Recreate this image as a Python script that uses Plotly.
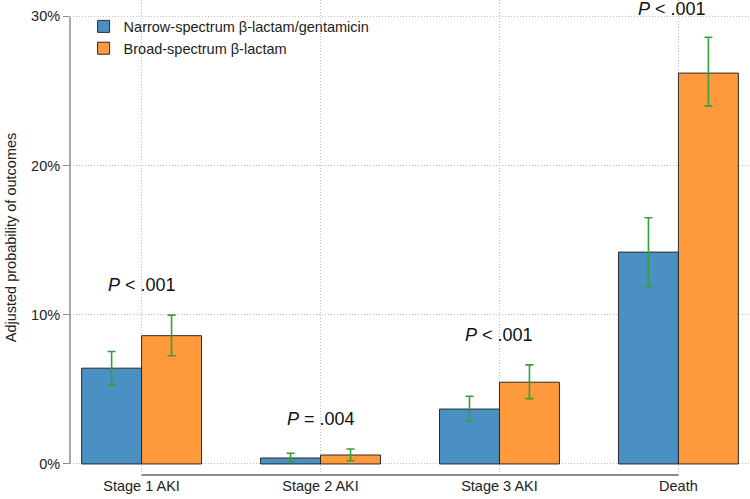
import plotly.graph_objects as go

categories = ["Stage 1 AKI", "Stage 2 AKI", "Stage 3 AKI", "Death"]
series_names = ["Narrow-spectrum β-lactam/gentamicin", "Broad-spectrum β-lactam"]
narrow = [6.42, 0.40, 3.68, 14.2]
narrow_lo = [5.3, 0.15, 2.86, 11.9]
narrow_hi = [7.54, 0.72, 4.54, 16.5]
broad = [8.6, 0.6, 5.48, 26.2]
broad_lo = [7.25, 0.22, 4.38, 24.0]
broad_hi = [9.98, 1.0, 6.64, 28.6]
p_labels = ["<i>P</i> < .001", "<i>P</i> = .004", "<i>P</i> < .001", "<i>P</i> < .001"]
y_ticks = [0, 10, 20, 30]
y_tick_text = ["0%", "10%", "20%", "30%"]

colors = ["#4A90C2", "#FF9A3C"]
err_color = "#34A03A"
font_family = "Liberation Sans, Arial, sans-serif"
grid_col = "#bdbdbd"

fig = go.Figure()
for name, vals, lo, hi, col in [
    (series_names[0], narrow, narrow_lo, narrow_hi, colors[0]),
    (series_names[1], broad, broad_lo, broad_hi, colors[1]),
]:
    fig.add_trace(go.Bar(
        x=categories, y=vals, name=name,
        marker=dict(color=col, line=dict(color="#2a2a2a", width=1)),
        error_y=dict(type="data", symmetric=False,
                     array=[h - v for h, v in zip(hi, vals)],
                     arrayminus=[v - l for v, l in zip(vals, lo)],
                     color=err_color, thickness=1.6, width=4),
    ))

# P-value annotations above the highest error bar of each group
for i, (cat, lab) in enumerate(zip(categories, p_labels)):
    top = max(narrow_hi[i], broad_hi[i])
    last = i == len(categories) - 1
    fig.add_annotation(x=cat, y=top + 2.0, text=lab, showarrow=False,
                       font=dict(size=18, color="#111", family=font_family),
                       xshift=-6 if last else 0, yshift=-2 if last else 0)

# Stata-style axis lines
fig.add_shape(type="line", xref="paper", yref="y", x0=0, x1=0, y0=0, y1=30,
              line=dict(color="#8c8c8c", width=1.5))
fig.add_shape(type="line", xref="x", yref="paper", x0=0, x1=len(categories) - 1,
              y0=0, y1=0, line=dict(color="#8c8c8c", width=2))

fig.update_layout(
    width=750, height=499,
    margin=dict(l=70, r=0, t=0, b=24),
    paper_bgcolor="white", plot_bgcolor="white",
    barmode="group", bargap=0.33, bargroupgap=0,
    font=dict(family=font_family, size=14.5, color="#222"),
    showlegend=True,
    legend=dict(x=0.02, y=0.978, xanchor="left", yanchor="top",
                bgcolor="rgba(0,0,0,0)", font=dict(size=14.5),
                itemwidth=30, tracegroupgap=2),
)
fig.update_xaxes(
    range=[-0.40, 3.40], showgrid=True, gridcolor=grid_col, griddash="1px,2px",
    gridwidth=1, showline=False, ticks="", zeroline=False,
    tickfont=dict(size=14.5, color="#222"),
)
fig.update_yaxes(
    range=[-0.74, 31.1], tickvals=y_ticks, ticktext=y_tick_text,
    showgrid=True, gridcolor=grid_col, griddash="1px,2px", gridwidth=1,
    zeroline=False, showline=False, ticks="outside", ticklen=6,
    tickcolor="#8c8c8c", tickfont=dict(size=14.5, color="#222"),
    title=dict(text="Adjusted probability of outcomes", font=dict(size=14.5), standoff=10),
)
fig.write_html("out.html")
